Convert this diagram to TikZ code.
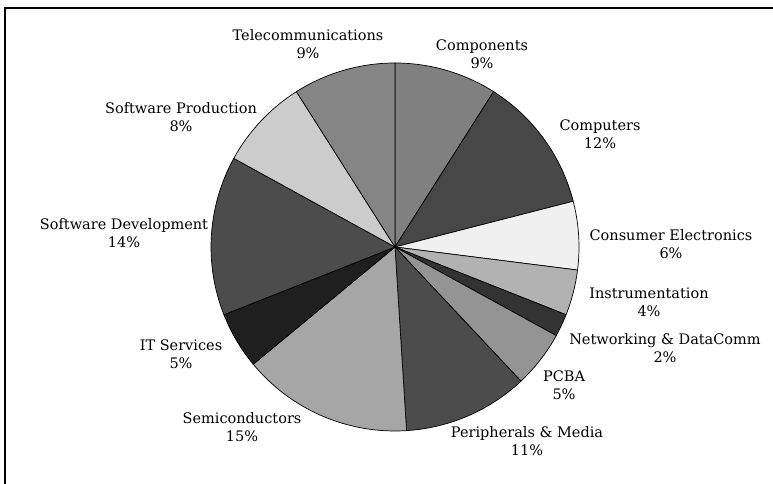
\documentclass[tikz,border=0pt]{standalone}
\usepackage{fontspec}
\setmainfont{DejaVu Serif}
\usepackage{tikz}
\usepackage{xcolor}

\tikzset{
  label/.style={align=center, inner sep=1pt, font=\fontsize{14.5}{18}\selectfont},
  slice/.style={draw=black, line width=0.7pt, line join=round}
}

\begin{document}
\begin{tikzpicture}[x=1pt,y=1pt]
  \useasboundingbox (0,0) rectangle (773,484);
  % frame
  \draw[line width=2pt] (5,0) -- (5,476) -- (773,476);
  \coordinate (c) at (395,237);
  % slices, clockwise from the top
  \foreach \s/\e/\g in {90/57.6/50, 57.6/14.4/72, 14.4/-7.2/6, -7.2/-21.6/30,
      -21.6/-28.8/80, -28.8/-46.8/42, -46.8/-86.4/70, -86.4/-140.4/35,
      -140.4/-158.4/88, -158.4/-208.8/70, -208.8/-237.6/20, -237.6/-270/48}
    \filldraw[slice, fill=black!\g] (c) -- ++(\s:184) arc[start angle=\s, end angle=\e, radius=184] -- cycle;

  \node[label] (tel) at (308,440) {Telecommunications\\9\%};
  \node[label] (com) at (482,430) {Components\\9\%};
  \node[label] (cpu) at (600,350) {Computers\\12\%};
  \node[label] (cel) at (671,240) {Consumer Electronics\\6\%};
  \node[label] (ins) at (649,182) {Instrumentation\\4\%};
  \node[label] (net) at (665,136) {Networking \& DataComm\\2\%};
  \node[label] (pcb) at (564,99)  {PCBA\\5\%};
  \node[label] (per) at (527,43)  {Peripherals \& Media\\11\%};
  \node[label] (sem) at (242,57)  {Semiconductors\\15\%};
  \node[label] (its) at (181,130) {IT Services\\5\%};
  \node[label] (swd) at (124,251) {Software Development\\14\%};
  \node[label] (swp) at (181,367) {Software Production\\8\%};
\end{tikzpicture}
\end{document}
